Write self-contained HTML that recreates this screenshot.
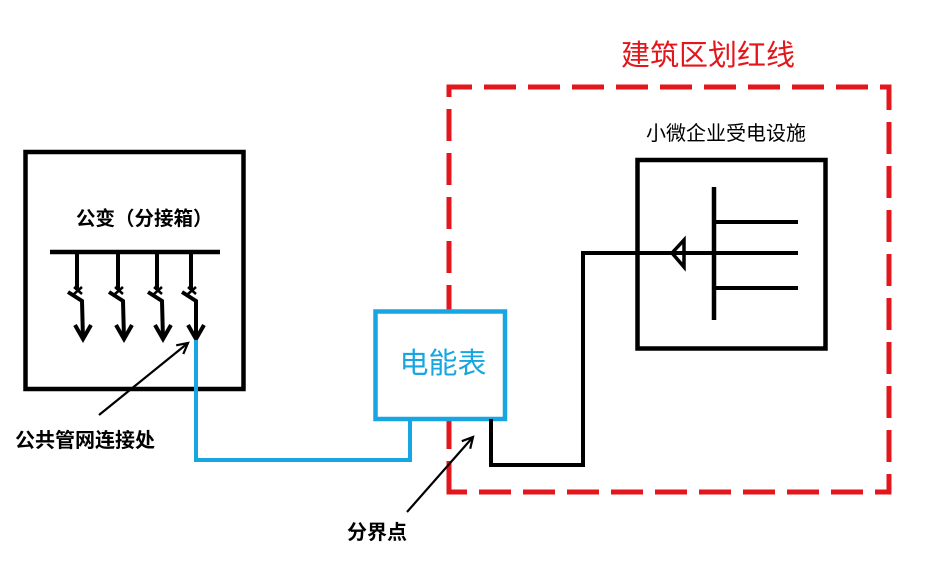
<!DOCTYPE html>
<html><head><meta charset="utf-8"><style>
html,body{margin:0;padding:0;background:#fff;}
body{width:928px;height:584px;overflow:hidden;position:relative;}
svg{position:absolute;left:0;top:0;}
text{font-family:"Liberation Sans","Noto Sans CJK SC",sans-serif;}
</style></head><body>
<svg width="928" height="584" viewBox="0 0 928 584" xmlns="http://www.w3.org/2000/svg">
<rect x="0" y="0" width="928" height="584" fill="#fff"/>
<!-- red dashed boundary -->
<g stroke="#e2161b" stroke-width="5" fill="none" stroke-dasharray="32 12">
<line x1="446.5" y1="87" x2="891.5" y2="87" stroke-dashoffset="6.5"/>
<line x1="889" y1="84.5" x2="889" y2="494.5" stroke-dashoffset="6.5"/>
<line x1="446.5" y1="492" x2="891.5" y2="492" stroke-dashoffset="11.5"/>
<line x1="449" y1="84.5" x2="449" y2="494.5" stroke-dashoffset="19.5"/>
</g>
<text x="708" y="65" font-size="29" fill="#e2161b" text-anchor="middle">建筑区划红线</text>

<!-- left box -->
<rect x="25.5" y="152" width="218" height="237" fill="none" stroke="#000" stroke-width="4.5"/>
<text x="76" y="225" font-size="19.5" font-weight="bold" fill="#000">公变（分接箱）</text>
<line x1="50" y1="252" x2="220" y2="252" stroke="#000" stroke-width="4.5"/>
<g stroke="#000" stroke-width="4" fill="none" stroke-linejoin="miter">
<g transform="translate(77,0)">
<line x1="0" y1="252" x2="0" y2="290"/>
<line x1="-3" y1="287" x2="5" y2="294" stroke-width="2.5"/>
<line x1="-3" y1="294" x2="5" y2="287" stroke-width="2.5"/>
<polyline points="-9,292 5,301 6,339"/>
<polyline points="-2,325 6,339 14,325"/>
</g>
<g transform="translate(118,0)">
<line x1="0" y1="252" x2="0" y2="290"/>
<line x1="-3" y1="287" x2="5" y2="294" stroke-width="2.5"/>
<line x1="-3" y1="294" x2="5" y2="287" stroke-width="2.5"/>
<polyline points="-9,292 5,301 6,339"/>
<polyline points="-2,325 6,339 14,325"/>
</g>
<g transform="translate(157,0)">
<line x1="0" y1="252" x2="0" y2="290"/>
<line x1="-3" y1="287" x2="5" y2="294" stroke-width="2.5"/>
<line x1="-3" y1="294" x2="5" y2="287" stroke-width="2.5"/>
<polyline points="-9,292 5,301 6,339"/>
<polyline points="-2,325 6,339 14,325"/>
</g>
<g transform="translate(191,0)">
<line x1="0" y1="252" x2="0" y2="290"/>
<line x1="-3" y1="287" x2="5" y2="294" stroke-width="2.5"/>
<line x1="-3" y1="294" x2="5" y2="287" stroke-width="2.5"/>
<polyline points="-9,292 5,301 5,339"/>
<polyline points="-3,325 5,339 13,325"/>
</g>
</g>

<!-- blue connection -->
<polyline points="196,340 196,460 410,460 410,419" fill="none" stroke="#17a6e2" stroke-width="4"/>
<!-- meter box -->
<rect x="375.5" y="311.5" width="129.5" height="107.5" fill="#fff" stroke="#17a6e2" stroke-width="4.5"/>
<text x="443" y="373" font-size="29" fill="#17a6e2" text-anchor="middle">电能表</text>

<!-- black connection to facility -->
<polyline points="491,419 491,465 583,465 583,253 798,253" fill="none" stroke="#000" stroke-width="4"/>

<!-- facility -->
<text x="726" y="140" font-size="20" fill="#000" text-anchor="middle">小微企业受电设施</text>
<rect x="637.5" y="160" width="188" height="188.5" fill="none" stroke="#000" stroke-width="4.5"/>
<line x1="714" y1="187" x2="714" y2="320" stroke="#000" stroke-width="4.5"/>
<line x1="714" y1="222" x2="798" y2="222" stroke="#000" stroke-width="4"/>
<line x1="714" y1="288" x2="798" y2="288" stroke="#000" stroke-width="4"/>
<polygon points="672,253 684,240 684,267" fill="none" stroke="#000" stroke-width="3.5"/>

<!-- annotation arrows -->
<g stroke="#000" stroke-width="2.2" fill="none">
<line x1="99" y1="415" x2="188" y2="343"/>
<polyline points="176.2,345.3 188,343 183.3,354"/>
<line x1="407" y1="512" x2="473" y2="437"/>
<polyline points="461.8,441.2 473,437 470.2,448.7"/>
</g>
<text x="15" y="447" font-size="20" font-weight="bold" fill="#000">公共管网连接处</text>
<text x="347" y="539" font-size="20" font-weight="bold" fill="#000">分界点</text>
</svg>
</body></html>
